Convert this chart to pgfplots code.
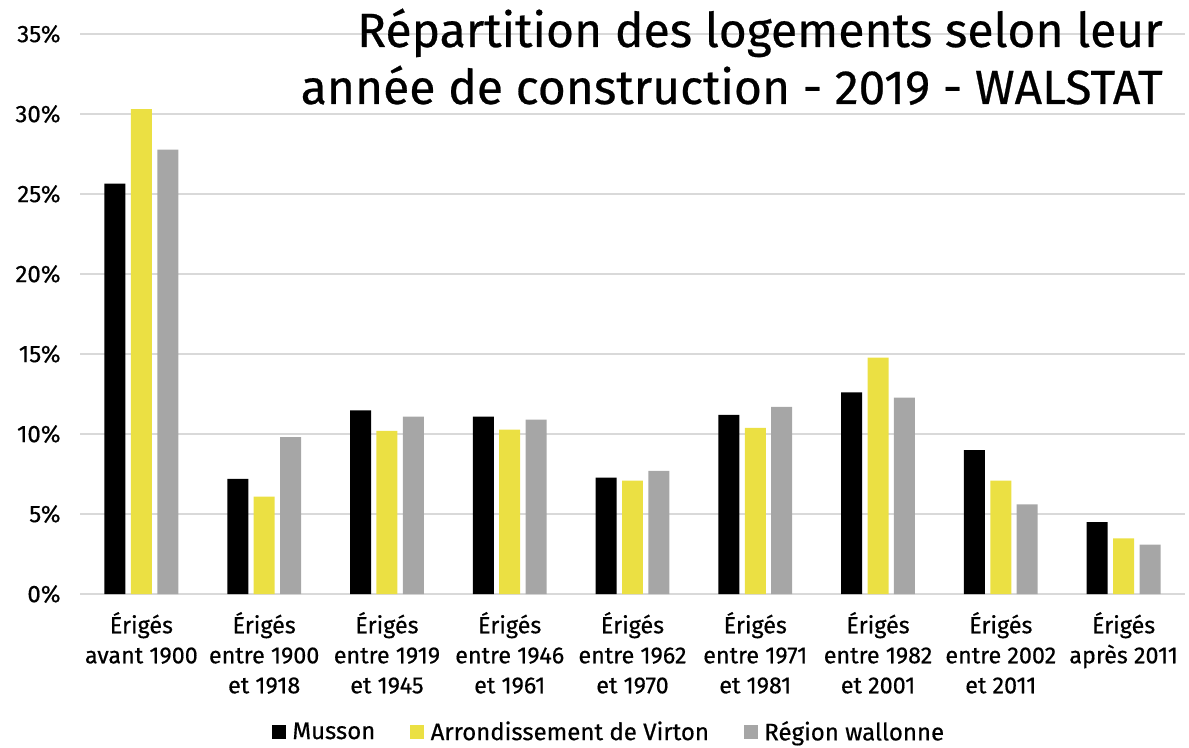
\documentclass[border=0pt]{standalone}
\usepackage{pgfplots}
\pgfplotsset{compat=1.18}
\usepackage{fontspec}
\setmainfont{Fira Sans}
\newfontface\medfont{Fira Sans}[FakeBold=0.5]
\definecolor{cyel}{HTML}{EBE043}
\definecolor{cgray}{HTML}{A6A6A6}
\definecolor{cgrid}{HTML}{D9D9D9}
\begin{document}
\begin{tikzpicture}
\path[use as bounding box] (0pt,0pt) rectangle (891.75pt,560.25pt);
\begin{axis}[
  at={(60pt,114.75pt)}, anchor=south west,
  scale only axis, width=828.75pt, height=420pt,
  xmin=-0.5, xmax=8.5, ymin=0, ymax=35,
  axis line style={draw=none},
  major tick length=0pt,
  ymajorgrids, grid style={cgrid, line width=1.2pt},
  ytick={0,5,10,15,20,25,30,35},
  yticklabels={0\%,5\%,10\%,15\%,20\%,25\%,30\%,35\%},
  yticklabel style={font=\medfont\fontsize{18}{21}\selectfont, xshift=-11pt},
  xtick={0,...,8},
  xticklabels={{Érigés\\avant 1900},{Érigés\\entre 1900\\et 1918},{Érigés\\entre 1919\\et 1945},{Érigés\\entre 1946\\et 1961},{Érigés\\entre 1962\\et 1970},{Érigés\\entre 1971\\et 1981},{Érigés\\entre 1982\\et 2001},{Érigés\\entre 2002\\et 2011},{Érigés\\après 2011}},
  xticklabel style={align=center, font=\medfont\fontsize{17.5}{22.5}\selectfont, yshift=-10pt},
  ybar, bar width=0.171,
  legend columns=3,
  legend style={draw=none, at={(0.479,-0.246)}, anchor=center, font=\medfont\fontsize{18}{21}\selectfont,
    /tikz/every even column/.append style={column sep=24pt},
    /tikz/every odd column/.append style={column sep=3pt}},
  legend image code/.code={\fill[#1] (0pt,-5.25pt) rectangle (10.5pt,5.25pt);},
]
\addplot[fill=black, draw=none, bar shift=-0.215] coordinates {(0,25.65) (1,7.2) (2,11.48) (3,11.08) (4,7.28) (5,11.2) (6,12.6) (7,9.0) (8,4.5)};
\addplot[fill=cyel, draw=none, bar shift=0] coordinates {(0,30.3) (1,6.08) (2,10.2) (3,10.28) (4,7.08) (5,10.38) (6,14.78) (7,7.08) (8,3.48)};
\addplot[fill=cgray, draw=none, bar shift=0.215] coordinates {(0,27.78) (1,9.8) (2,11.08) (3,10.9) (4,7.7) (5,11.7) (6,12.28) (7,5.6) (8,3.08)};
\legend{Musson, Arrondissement de Virton, Région wallonne}
\end{axis}
\node[anchor=base east, align=right, inner sep=0pt, font=\medfont\fontsize{36}{42.75}\selectfont] at (872.25pt,482.25pt) {Répartition des logements selon leur\\année de construction - 2019 - WALSTAT};
\end{tikzpicture}
\end{document}
